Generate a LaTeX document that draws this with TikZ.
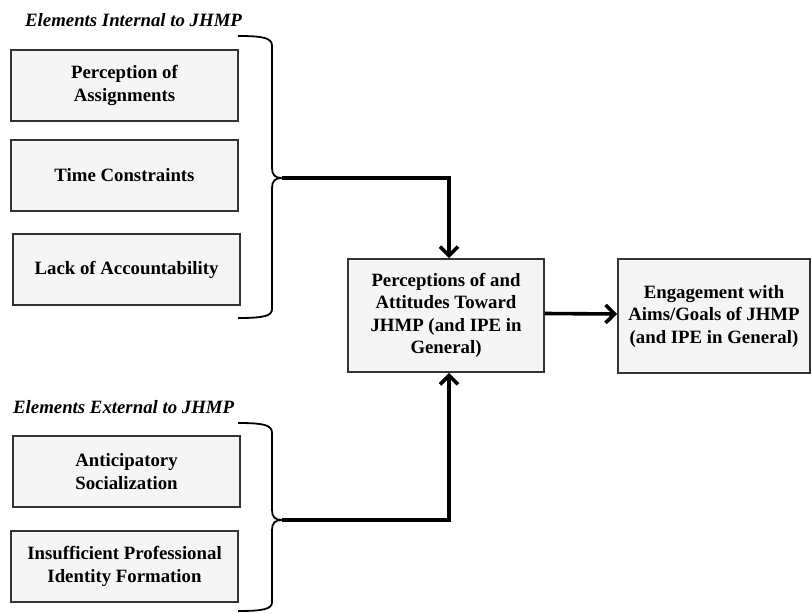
\documentclass[tikz,border=0pt]{standalone}
\usepackage{fontspec}
\setmainfont{Liberation Serif}
\usetikzlibrary{arrows.meta}
\begin{document}
\begin{tikzpicture}[x=1pt,y=-1pt,
  boxst/.style={draw=black!80, fill=black!4, line width=1.8pt, align=center,
    font=\bfseries\fontsize{18.8}{22.5}\selectfont, inner sep=0pt},
  titlest/.style={font=\bfseries\itshape\fontsize{18.8}{22.5}\selectfont, inner sep=0pt, anchor=base west},
  bracest/.style={line width=1.8pt},
  conn/.style={line width=3.6pt, -{Straight Barb[length=9pt,width=18pt]}}]
\useasboundingbox (0,0) rectangle (811,613);
\node[titlest] (t1) at (25,26) {Elements Internal to JHMP};
\node[titlest] (t2) at (13,413) {Elements External to JHMP};
\node[boxst, minimum width=227pt, minimum height=71pt] (b1) at (124.5,85.5) {Perception of\\Assignments};
\node[boxst, minimum width=227pt, minimum height=71pt] (b2) at (124.5,175.5) {Time Constraints};
\node[boxst, minimum width=227pt, minimum height=71pt] (b3) at (126.5,269.5) {Lack of Accountability};
\node[boxst, minimum width=227pt, minimum height=71pt] (b4) at (126.5,471.5) {Anticipatory\\Socialization};
\node[boxst, minimum width=227pt, minimum height=71pt] (b5) at (124.5,566.5) {Insufficient Professional\\Identity Formation};
\node[boxst, minimum width=196pt, minimum height=113pt] (c) at (446,315.5) {Perceptions of and\\Attitudes Toward\\JHMP (and IPE in\\General)};
\node[boxst, minimum width=192pt, minimum height=114pt] (e) at (714,316) {Engagement with\\Aims/Goals of JHMP\\(and IPE in General)};
\coordinate (tip1) at (282,178);
\coordinate (tip2) at (282,520);
% braces
\draw[bracest] (238,36) .. controls (264,36) and (272,38) .. (272,46) -- (272,168)
  .. controls (272,175) and (275,178) .. (tip1)
  .. controls (275,178) and (272,181) .. (272,188) -- (272,309)
  .. controls (272,316) and (264,318) .. (238,318);
\draw[bracest] (238,423) .. controls (264,423) and (272,425) .. (272,433) -- (272,510)
  .. controls (272,517) and (275,520) .. (tip2)
  .. controls (275,520) and (272,523) .. (272,530) -- (272,602)
  .. controls (272,609) and (264,611) .. (238,611);
% connectors
\draw[conn] (tip1) -| ([xshift=3pt]c.north);
\draw[conn] (tip2) -| ([xshift=3pt]c.south);
\draw[conn] ([yshift=2pt]c.east) -- ([yshift=2pt]e.west);
\end{tikzpicture}
\end{document}
